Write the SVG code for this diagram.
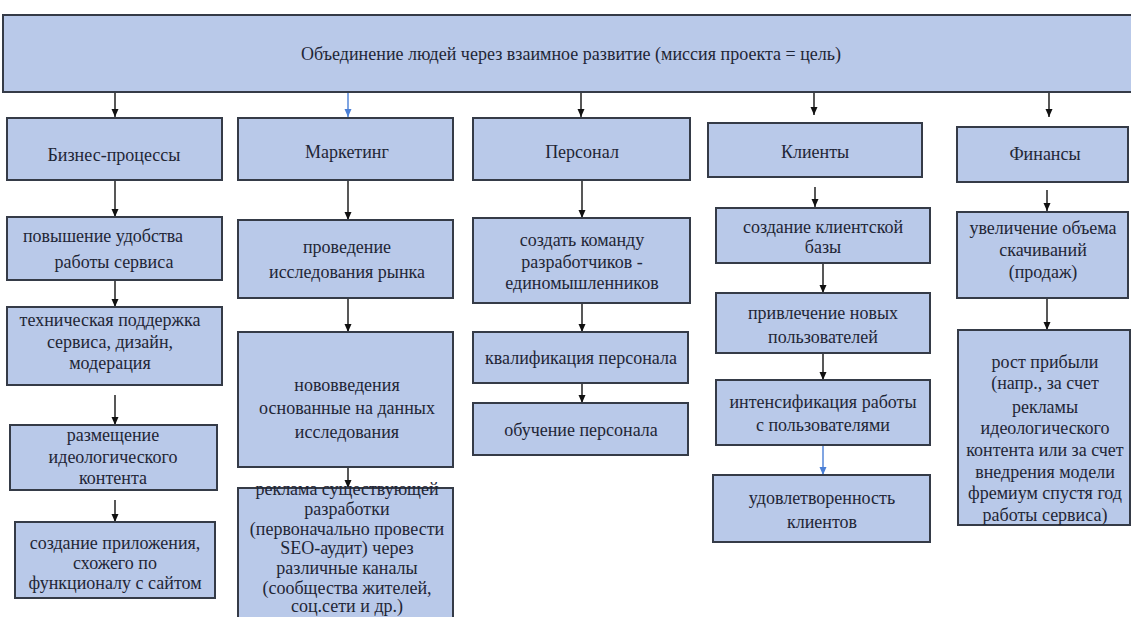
<svg xmlns="http://www.w3.org/2000/svg" width="1131" height="617" viewBox="0 0 1131 617">
<style>
.box{fill:#b9c9e9;stroke:#353b47;stroke-width:2}
text{font-family:'Liberation Serif','Times New Roman',serif;font-size:18px;fill:#1f2636;text-anchor:middle}
.c{stroke:#111;stroke-width:1.4;fill:none}
.cb{stroke:#4a7fd6;stroke-width:1.4;fill:none}
</style>
<defs>
<marker id="ah" markerUnits="userSpaceOnUse" markerWidth="8" markerHeight="8" refX="8" refY="4" orient="auto" viewBox="0 0 8 8">
<path d="M0,0.5 L8,4 L0,7.5 Z" fill="#111"/>
</marker>
<marker id="ahb" markerUnits="userSpaceOnUse" markerWidth="8" markerHeight="8" refX="8" refY="4" orient="auto" viewBox="0 0 8 8">
<path d="M0,0.5 L8,4 L0,7.5 Z" fill="#4a7fd6"/>
</marker>
</defs>
<rect width="1131" height="617" fill="#ffffff"/>

<g id="connectors">
<path class="c" d="M115,93 V117" marker-end="url(#ah)"/>
<path class="cb" d="M348,93 V117" marker-end="url(#ahb)"/>
<path class="c" d="M581,93 V117" marker-end="url(#ah)"/>
<path class="c" d="M814,93 V115" marker-end="url(#ah)"/>
<path class="c" d="M1049,93 V117" marker-end="url(#ah)"/>
<path class="c" d="M115,181 V217" marker-end="url(#ah)"/>
<path class="c" d="M115,281 V307" marker-end="url(#ah)"/>
<path class="c" d="M115,395 V425" marker-end="url(#ah)"/>
<path class="c" d="M115,500 V522" marker-end="url(#ah)"/>
<path class="c" d="M348,181 V220" marker-end="url(#ah)"/>
<path class="c" d="M348,299 V332" marker-end="url(#ah)"/>
<path class="c" d="M348,468 V488" marker-end="url(#ah)"/>
<path class="c" d="M582,181 V218" marker-end="url(#ah)"/>
<path class="c" d="M582,304 V332" marker-end="url(#ah)"/>
<path class="c" d="M582,384 V403" marker-end="url(#ah)"/>
<path class="c" d="M815,187 V207" marker-end="url(#ah)"/>
<path class="c" d="M823,264 V293" marker-end="url(#ah)"/>
<path class="c" d="M823,354 V380" marker-end="url(#ah)"/>
<path class="cb" d="M823,446 V475" marker-end="url(#ahb)"/>
<path class="c" d="M1047,190 V211" marker-end="url(#ah)"/>
<path class="c" d="M1047,299 V330" marker-end="url(#ah)"/>
</g>

<g id="mission">
<rect class="box" x="3" y="15" width="1140" height="77"/>
<text x="571" y="60" font-size="17" textLength="540" lengthAdjust="spacing">Объединение людей через взаимное развитие (миссия проекта = цель)</text>
</g>

<g id="biz">
<rect class="box" x="7" y="118" width="215" height="62"/>
<text x="114" y="161">Бизнес-процессы</text>
</g>
<g id="biz1">
<rect class="box" x="7" y="217" width="215" height="63"/>
<text x="103" y="242">повышение удобства</text>
<text x="114" y="268">работы сервиса</text>
</g>
<g id="biz2">
<rect class="box" x="7" y="307" width="215" height="78"/>
<text x="110" y="326">техническая поддержка</text>
<text x="110" y="348">сервиса, дизайн,</text>
<text x="110" y="369">модерация</text>
</g>
<g id="biz3">
<rect class="box" x="10" y="425" width="207" height="65"/>
<text x="113" y="441">размещение</text>
<text x="113" y="463">идеологического</text>
<text x="113" y="484">контента</text>
</g>
<g id="biz4">
<rect class="box" x="15" y="522" width="200" height="76"/>
<text x="115" y="549">создание приложения,</text>
<text x="115" y="569">схожего по</text>
<text x="115" y="589">функционалу с сайтом</text>
</g>

<g id="mkt">
<rect class="box" x="238" y="118" width="215" height="62"/>
<text x="347" y="158">Маркетинг</text>
</g>
<g id="mkt1">
<rect class="box" x="238" y="220" width="215" height="78"/>
<text x="347" y="253">проведение</text>
<text x="347" y="278">исследования рынка</text>
</g>
<g id="mkt2">
<rect class="box" x="238" y="332" width="215" height="135"/>
<text x="347" y="391">нововведения</text>
<text x="347" y="414">основанные на данных</text>
<text x="347" y="438">исследования</text>
</g>
<g id="mkt3">
<rect class="box" x="238" y="488" width="215" height="140"/>
<text x="347" y="495">реклама существующей</text>
<text x="347" y="515">разработки</text>
<text x="347" y="535">(первоначально провести</text>
<text x="347" y="554">SEO-аудит) через</text>
<text x="347" y="574">различные каналы</text>
<text x="347" y="594">(сообщества жителей,</text>
<text x="347" y="612">соц.сети и др.)</text>
</g>

<g id="hr">
<rect class="box" x="473" y="118" width="217" height="62"/>
<text x="582" y="158">Персонал</text>
</g>
<g id="hr1">
<rect class="box" x="473" y="218" width="217" height="85"/>
<text x="582" y="246">создать команду</text>
<text x="582" y="268">разработчиков -</text>
<text x="582" y="289">единомышленников</text>
</g>
<g id="hr2">
<rect class="box" x="473" y="332" width="215" height="51"/>
<text x="581" y="364">квалификация персонала</text>
</g>
<g id="hr3">
<rect class="box" x="473" y="403" width="215" height="52"/>
<text x="581" y="436">обучение персонала</text>
</g>

<g id="cli">
<rect class="box" x="708" y="123" width="214" height="54"/>
<text x="815" y="158">Клиенты</text>
</g>
<g id="cli1">
<rect class="box" x="716" y="208" width="214" height="55"/>
<text x="823" y="233">создание клиентской</text>
<text x="823" y="253">базы</text>
</g>
<g id="cli2">
<rect class="box" x="716" y="293" width="214" height="60"/>
<text x="823" y="319">привлечение новых</text>
<text x="823" y="343">пользователей</text>
</g>
<g id="cli3">
<rect class="box" x="716" y="380" width="214" height="65"/>
<text x="823" y="408">интенсификация работы</text>
<text x="823" y="431">с пользователями</text>
</g>
<g id="cli4">
<rect class="box" x="713" y="475" width="217" height="67"/>
<text x="822" y="504">удовлетворенность</text>
<text x="822" y="528">клиентов</text>
</g>

<g id="fin">
<rect class="box" x="957" y="127" width="171" height="55"/>
<text x="1045" y="160" font-size="16">Финансы</text>
</g>
<g id="fin1">
<rect class="box" x="957" y="212" width="171" height="86"/>
<text x="1043" y="234">увеличение объема</text>
<text x="1043" y="256">скачиваний</text>
<text x="1043" y="278">(продаж)</text>
</g>
<g id="fin2">
<rect class="box" x="958" y="330" width="172" height="195"/>
<text x="1045" y="368">рост прибыли</text>
<text x="1045" y="389">(напр., за счет</text>
<text x="1045" y="413">рекламы</text>
<text x="1045" y="434">идеологического</text>
<text x="1045" y="456">контента или за счет</text>
<text x="1045" y="478">внедрения модели</text>
<text x="1045" y="499">фремиум спустя год</text>
<text x="1045" y="521">работы сервиса)</text>
</g>
</svg>
